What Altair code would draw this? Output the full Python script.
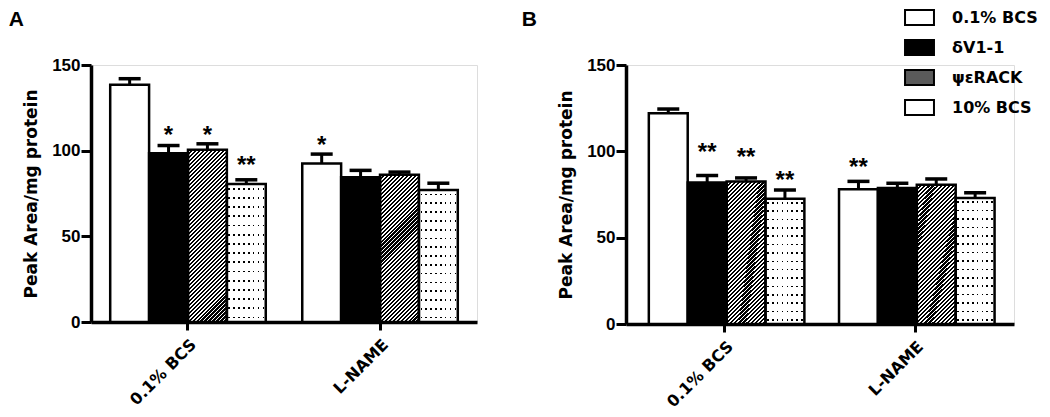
import math
import altair as alt
import pandas as pd

# ---------------- data ----------------
groups = ["0.1% BCS", "L-NAME"]
series = ["0.1% BCS", "δV1-1", "ψεRACK", "10% BCS"]

# Panel A
a_bcs_mean = [138.5, 98.5, 100.5, 80.5]
a_bcs_err = [3.5, 4.5, 3.5, 2.5]
a_lname_mean = [92.5, 84.5, 86.0, 77.0]
a_lname_err = [5.5, 4.0, 1.5, 4.0]
a_bcs_star = ["", "*", "*", "**"]
a_lname_star = ["*", "", "", ""]
a_bcs_star_y = [0, 112, 112, 94.5]
a_lname_star_y = [106, 0, 0, 0]

# Panel B
b_bcs_mean = [122.0, 82.0, 82.6, 72.6]
b_bcs_err = [2.5, 4.0, 2.0, 5.0]
b_lname_mean = [78.0, 78.7, 80.7, 73.0]
b_lname_err = [4.6, 2.8, 3.3, 3.0]
b_bcs_star = ["", "**", "**", "**"]
b_lname_star = ["**", "", "", ""]
b_bcs_star_y = [0, 102.5, 99.6, 86.3]
b_lname_star_y = [93.8, 0, 0, 0]

y_ticks = [0, 50, 100, 150]
Y_MAX = 150


def make_df(m1, e1, s1, sy1, m2, e2, s2, sy2):
    rows = []
    for g, m, e, s, sy in [(groups[0], m1, e1, s1, sy1), (groups[1], m2, e2, s2, sy2)]:
        for i, ser in enumerate(series):
            rows.append({"group": g, "series": ser, "value": m[i], "err": e[i],
                         "star": s[i], "star_y": sy[i]})
    return pd.DataFrame(rows)


df_a = make_df(a_bcs_mean, a_bcs_err, a_bcs_star, a_bcs_star_y,
               a_lname_mean, a_lname_err, a_lname_star, a_lname_star_y)
df_b = make_df(b_bcs_mean, b_bcs_err, b_bcs_star, b_bcs_star_y,
               b_lname_mean, b_lname_err, b_lname_star, b_lname_star_y)

# ---------------- fill textures (styling only) ----------------
def hatch_gradient(w, h, hperiod=4.0, dark=0.55):
    """45-degree '/' stripes in a w x h box (gradient in bounding-box units)."""
    ratio = w / h
    k = (ratio + 1) / (ratio * ratio + 1)
    periods = max(1, round((w + h) / hperiod))
    stops = []
    for i in range(periods):
        s = i / periods
        m = (i + dark) / periods
        e = (i + 1) / periods
        stops += [{"offset": s, "color": "black"}, {"offset": m, "color": "black"},
                  {"offset": m, "color": "white"}, {"offset": e, "color": "white"}]
    return {"gradient": "linear", "x1": 0, "y1": 0, "x2": k * ratio, "y2": k, "stops": stops}


def band_gradient(n, half, base, band, vertical):
    stops = [{"offset": 0, "color": base}]
    for i in range(n):
        c = (i + 0.5) / n
        stops += [{"offset": c - half, "color": base}, {"offset": c - half, "color": band},
                  {"offset": c + half, "color": band}, {"offset": c + half, "color": base}]
    stops.append({"offset": 1, "color": base})
    if vertical:
        return {"gradient": "linear", "x1": 0, "y1": 0, "x2": 0, "y2": 1, "stops": stops}
    return {"gradient": "linear", "x1": 0, "y1": 0, "x2": 1, "y2": 0, "stops": stops}


DOT_COLS = band_gradient(8, 0.021, "white", "black", vertical=False)
DOT_ROWS = band_gradient(15, 0.0065, "white", "rgba(255,255,255,0)", vertical=True)

LABEL_FONT = "DejaVu Sans"
TICK_FONT = "Liberation Sans"
YTITLE = "Peak Area/mg protein"

legend = alt.Legend(
    title=None, orient="none", legendX=820, legendY=-56,
    symbolType="M-1.93,-1H1.93V1H-1.93Z", symbolSize=225,
    symbolStrokeColor="black", symbolStrokeWidth=2, symbolOpacity=1,
    labelFont=LABEL_FONT, labelFontSize=16, labelFontWeight="bold", labelColor="black",
    labelOffset=24, rowPadding=7, labelLimit=200,
)


def panel(df, letter, width, height, pad_in, pad_out, title_offset, title_dx):
    x_enc = alt.X("group:N", sort=groups, title=None,
                  scale=alt.Scale(paddingInner=pad_in, paddingOuter=pad_out),
                  axis=alt.Axis(labelAngle=-45, labelFont=LABEL_FONT, labelFontSize=16,
                                labelFontWeight="bold", labelColor="black", labelPadding=6,
                                domainWidth=3.5, domainColor="black", tickWidth=3,
                                tickSize=8, tickColor="black"))
    xo_enc = alt.XOffset("series:N", sort=series,
                         scale=alt.Scale(domain=series, paddingInner=0, paddingOuter=0))
    y_scale = alt.Scale(domain=[0, Y_MAX], nice=False)
    y_axis = alt.Axis(values=y_ticks, grid=False, labelFont=TICK_FONT, labelFontSize=17,
                      labelFontWeight="bold", labelColor="black", labelPadding=1,
                      domainWidth=3.5, domainColor="black", tickWidth=3, tickSize=10,
                      tickColor="black", titleFont=LABEL_FONT, titleFontSize=17,
                      titleFontWeight="bold", titleColor="black", titlePadding=11)

    base = alt.Chart(df).encode(x=x_enc, xOffset=xo_enc)
    y_val = alt.Y("value:Q", scale=y_scale, axis=y_axis, title=YTITLE)

    fill_layer = base.mark_bar().encode(
        y=y_val,
        fill=alt.Fill("series:N", sort=series,
                      scale=alt.Scale(domain=series, range=["white", "black", "#5a5a5a", "white"]),
                      legend=legend),
    )

    # bar width in pixels from the band geometry (styling of the hatch texture)
    step = width / (len(groups) - pad_in + 2 * pad_out)
    bar_w = step * (1 - pad_in) / len(series)
    hatch_layers = []
    for g in groups:
        v = float(df[(df.group == g) & (df.series == "ψεRACK")]["value"].iloc[0])
        grad = hatch_gradient(bar_w, v / Y_MAX * height)
        hatch_layers.append(
            base.transform_filter((alt.datum.series == "ψεRACK") & (alt.datum.group == g))
            .mark_bar(fill=grad).encode(y=y_val))

    dot_cols = base.transform_filter(alt.datum.series == "10% BCS").mark_bar(
        fill=DOT_COLS).encode(y=y_val)
    dot_rows = base.transform_filter(alt.datum.series == "10% BCS").mark_bar(
        fill=DOT_ROWS).encode(y=y_val)
    outline = base.mark_bar(fillOpacity=0, stroke="black", strokeWidth=2.5).encode(y=y_val)

    err_base = base.transform_calculate(top="datum.value + datum.err")
    err_rule = err_base.mark_rule(color="black", strokeWidth=3).encode(
        y=alt.Y("value:Q", scale=y_scale, title=YTITLE), y2="top:Q")
    err_cap = err_base.mark_tick(color="black", thickness=3.5, size=22, opacity=1).encode(
        y=alt.Y("top:Q", scale=y_scale, title=YTITLE))

    stars = base.transform_filter(alt.datum.star != "").mark_text(
        font=TICK_FONT, fontSize=24, fontWeight="bold", color="black",
        baseline="middle", dy=6).encode(
        y=alt.Y("star_y:Q", scale=y_scale, title=YTITLE), text="star:N")

    return alt.layer(fill_layer, *hatch_layers, dot_cols, dot_rows, outline,
                     err_rule, err_cap, stars).properties(
        width=width, height=height,
        title=alt.TitleParams(letter, anchor="start", frame="bounds", dx=title_dx,
                              fontSize=21, font=TICK_FONT, fontWeight="bold",
                              color="black", offset=title_offset),
    )


panel_a = panel(df_a, "A", 386, 257, 0.19, 0.1, 26, -14)
panel_b = panel(df_b, "B", 388, 259, 0.2, 0.12, 26, -36)

chart = alt.hconcat(panel_a, panel_b, spacing=43).properties(
    padding={"left": 0, "top": 0, "right": 0, "bottom": 0}
).configure_view(stroke=None).configure(background="white")

chart.save("out.html", embed_options={"renderer": "svg", "actions": False})
